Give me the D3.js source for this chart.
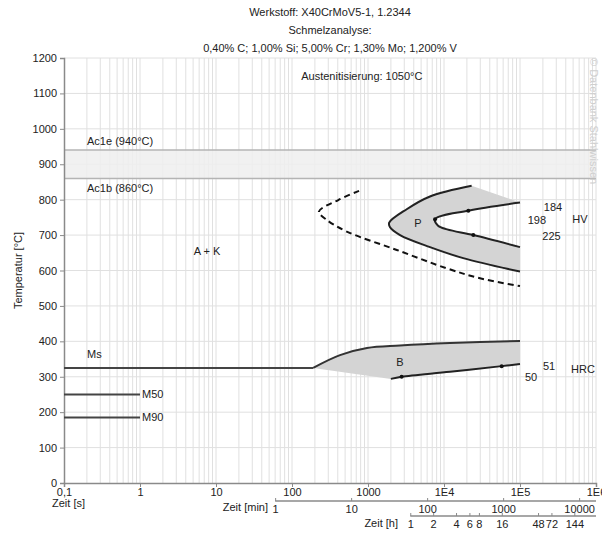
<!DOCTYPE html>
<html>
<head>
<meta charset="utf-8">
<script src="https://cdn.jsdelivr.net/npm/d3@7"></script>
<style>
  body { margin: 0; background: #fff; }
  text { font-family: "Liberation Sans", Arial, sans-serif; font-size: 11px; fill: #222; }
</style>
</head>
<body>
<div id="chart"></div>
<script>
// ZTU diagram, X40CrMoV5-1

var titleLines = ["Werkstoff: X40CrMoV5-1, 1.2344", "Schmelzanalyse:", "0,40% C; 1,00% Si; 5,00% Cr; 1,30% Mo; 1,200% V"];

// axis ticks
var yTicks = [0, 100, 200, 300, 400, 500, 600, 700, 800, 900, 1000, 1100, 1200];
var secTicks = [0.1, 1, 10, 100, 1000, 1e4, 1e5, 1e6];
var secLabels = ["0,1", "1", "10", "100", "1000", "1E4", "1E5", "1E6"];
var minTicks = [1, 10, 100, 1000, 10000];
var hourTicks = [1, 2, 4, 6, 8, 16, 48, 72, 144];

// Ac1 band
var ac1e = 940, ac1b = 860;

// martensite lines [t, T]
var msLine = [[0.1, 325], [190, 325]];
var m50Line = [[0.1, 250], [1, 250]];
var m90Line = [[0.1, 185], [1, 185]];

// bainite [t, T]
var bainiteStart = [[190, 325], [428, 361], [970, 381], [2640, 388], [12000, 395], [1e5, 401]];
var bainiteEnd = [[2000, 294], [2770, 300], [12000, 314], [57400, 330], [1e5, 336]];

// pearlite [t, T]
var pearliteStart = [[23100, 839], [6540, 809], [3230, 773], [1900, 735], [1950, 722], [2640, 700], [6540, 666], [17900, 635], [1e5, 597]];
var pearliteEnd = [[1e5, 792], [20900, 769], [7620, 745], [8300, 727], [11000, 716], [24300, 700], [1e5, 666]];

// carbide start (dashed)
var carbideStart = [[762, 825], [406, 799], [226, 766], [286, 743], [525, 710], [2390, 658], [10900, 606], [29800, 578], [1e5, 556]];

// measuring points on curves
var dots = [[20900, 769], [24300, 700], [7620, 745], [2770, 300], [57400, 330]];

// hardness labels [t, T, text]
var hardness = [[167000, 743, "198"], [272000, 780, "184"], [260000, 698, "225"], [615000, 746, "HV"],
                [241000, 330, "51"], [140000, 299, "50"], [675000, 322, "HRC"]];

var W = 602, H = 534;
var svg = d3.select("#chart").append("svg").attr("width", W).attr("height", H);

var x = d3.scaleLog().domain([0.1, 1e6]).range([64, 596]);
var y = d3.scaleLinear().domain([0, 1200]).range([483, 58]);

// title
svg.selectAll("text.title").data(titleLines).enter().append("text")
    .attr("x", 330).attr("y", function(d, i) { return 16 + i * 18; })
    .attr("text-anchor", "middle").text(function(d) { return d; });

// grid
var minor = [];
for (var e = -1; e < 6; e++) {
    for (var k = 2; k <= 9; k++) minor.push(k * Math.pow(10, e));
}
svg.append("g").selectAll("line").data(minor.concat(secTicks.slice(1))).enter().append("line")
    .attr("x1", function(d) { return x(d); }).attr("x2", function(d) { return x(d); })
    .attr("y1", y(0)).attr("y2", y(1200))
    .style("stroke", "#e0e0e0").style("stroke-width", 1);
svg.append("g").selectAll("line").data(yTicks.slice(1)).enter().append("line")
    .attr("x1", x(0.1)).attr("x2", x(1e6))
    .attr("y1", function(d) { return y(d); }).attr("y2", function(d) { return y(d); })
    .style("stroke", "#e0e0e0").style("stroke-width", 1);

// Ac1 band
svg.append("rect").attr("x", x(0.1)).attr("y", y(ac1e)).attr("width", x(1e6) - x(0.1))
    .attr("height", y(ac1b) - y(ac1e)).style("fill", "#efefef").style("opacity", 0.85);
[ac1e, ac1b].forEach(function(v) {
    svg.append("line").attr("x1", x(0.1)).attr("x2", x(1e6)).attr("y1", y(v)).attr("y2", y(v))
        .style("stroke", "#b4b4b4").style("stroke-width", 1.5);
});
svg.append("text").attr("x", 87).attr("y", y(ac1e) - 5).text("Ac1e (940°C)");
svg.append("text").attr("x", 87).attr("y", y(ac1b) + 14).text("Ac1b (860°C)");

var px = function(d) { return x(d[0]); }, py = function(d) { return y(d[1]); };
var smooth = d3.line().x(px).y(py).curve(d3.curveCatmullRom.alpha(0.5));
var straight = d3.line().x(px).y(py);

// shaded areas
var pFill = smooth(pearliteStart) + smooth(pearliteEnd.slice().reverse()).replace(/^M/, "L") + "Z";
svg.append("path").attr("d", pFill).style("fill", "#d4d4d4");
var bFill = smooth(bainiteStart) + smooth(bainiteEnd.slice().reverse()).replace(/^M/, "L") + "Z";
svg.append("path").attr("d", bFill).style("fill", "#d4d4d4");

// axes
var yAxis = d3.axisLeft(y).tickValues(yTicks).tickFormat(d3.format("d")).tickSize(4).tickPadding(3);
var gy = svg.append("g").attr("transform", "translate(" + x(0.1) + ",0)").call(yAxis);
var xAxis = d3.axisBottom(x).tickValues(secTicks).tickFormat(function(d, i) { return secLabels[i]; })
    .tickSize(4).tickPadding(1);
var gx = svg.append("g").attr("transform", "translate(0," + y(0) + ")").call(xAxis);

var minAxis = d3.axisBottom(x).tickValues(minTicks.map(function(d) { return d * 60; }))
    .tickFormat(function(d) { return String(Math.round(d / 60)); }).tickSize(-3).tickPadding(4);
var gm = svg.append("g").attr("transform", "translate(0,501)").call(minAxis);
gm.select(".domain").attr("d", "M" + x(60) + ",0H" + x(1e6));

var hourAxis = d3.axisBottom(x).tickValues(hourTicks.map(function(d) { return d * 3600; }))
    .tickFormat(function(d) { return String(Math.round(d / 3600)); }).tickSize(-3).tickPadding(4);
var gh = svg.append("g").attr("transform", "translate(0,516)").call(hourAxis);
gh.select(".domain").attr("d", "M" + x(3600) + ",0H" + x(1e6));

[gy, gx, gm, gh].forEach(function(g) {
    g.selectAll("text").style("font-family", "Liberation Sans, Arial, sans-serif").style("font-size", "11px").style("fill", "#222");
    g.select(".domain").style("stroke", "#8a8a8a").style("stroke-width", 1.5);
    g.selectAll(".tick line").style("stroke", "#8a8a8a");
});

svg.append("text").attr("x", 52).attr("y", 507).text("Zeit [s]");
svg.append("text").attr("x", 268).attr("y", 511).attr("text-anchor", "end").text("Zeit [min]");
svg.append("text").attr("x", 398).attr("y", 527).attr("text-anchor", "end").text("Zeit [h]");
svg.append("text").attr("transform", "translate(22," + y(600) + ") rotate(-90)")
    .attr("text-anchor", "middle").text("Temperatur [°C]");

// lines
var drawLine = function(pts, gen, col, dash) {
    svg.append("path").attr("d", gen(pts)).style("fill", "none").style("stroke", col)
        .style("stroke-width", 2).style("stroke-dasharray", dash || null);
};
drawLine(msLine, straight, "#444");
drawLine(m50Line, straight, "#444");
drawLine(m90Line, straight, "#444");
drawLine(bainiteStart, smooth, "#333");
drawLine(bainiteEnd, smooth, "#222");
drawLine(pearliteStart, smooth, "#222");
drawLine(pearliteEnd, smooth, "#222");
drawLine(carbideStart, smooth, "#111", "6,4");

svg.append("g").selectAll("circle").data(dots).enter().append("circle")
    .attr("cx", px).attr("cy", py).attr("r", 2).style("fill", "#111");

// region labels
svg.append("text").attr("x", 87).attr("y", y(364) + 4).text("Ms");
svg.append("text").attr("x", x(1) + 2).attr("y", y(250) + 4).text("M50");
svg.append("text").attr("x", x(1) + 2).attr("y", y(185) + 4).text("M90");
svg.append("text").attr("x", x(830)).attr("y", y(1150) + 4).attr("text-anchor", "middle").text("Austenitisierung: 1050°C");
svg.append("text").attr("x", x(7.6)).attr("y", y(655) + 4).attr("text-anchor", "middle").text("A + K");
svg.append("text").attr("x", x(4550)).attr("y", y(734) + 4).attr("text-anchor", "middle").text("P");
svg.append("text").attr("x", x(2640)).attr("y", y(342) + 4).attr("text-anchor", "middle").text("B");

svg.append("g").selectAll("text").data(hardness).enter().append("text")
    .attr("x", px).attr("y", function(d) { return y(d[1]) + 4; })
    .attr("text-anchor", "middle").text(function(d) { return d[2]; });

// watermark
svg.append("text").attr("transform", "translate(590,58) rotate(90)")
    .style("fill", "#cfcfcf").style("font-size", "11px").text("© Datenbank Stahlwissen");
</script>
</body>
</html>
